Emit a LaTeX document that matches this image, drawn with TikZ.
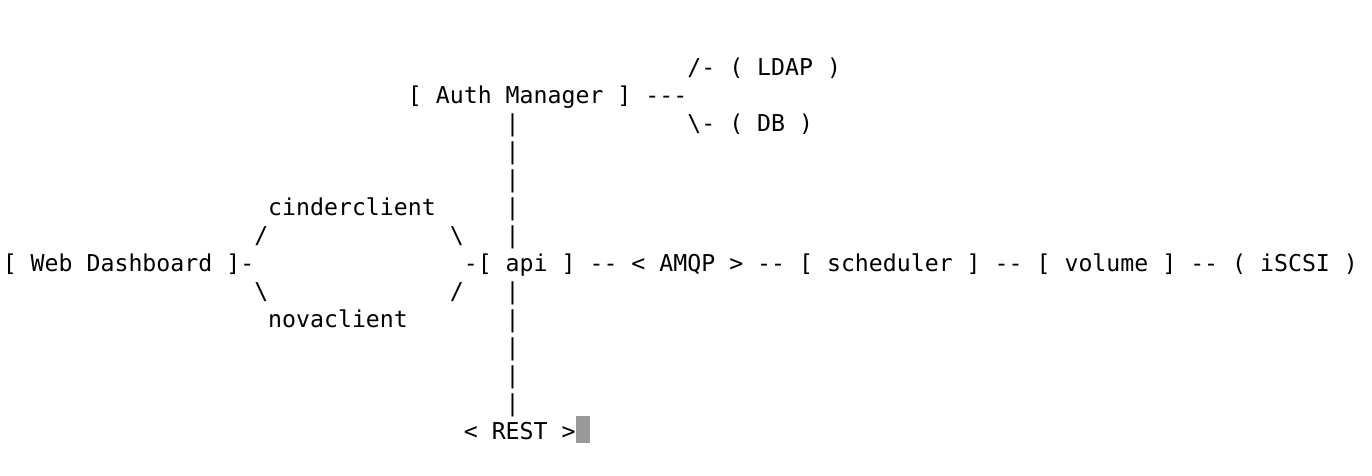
\documentclass[tikz,border=0pt]{standalone}
\usepackage{fontspec}
\newfontfamily\asciimono{DejaVu Sans Mono}[Ligatures=TeXOff]
\definecolor{cursorgray}{HTML}{999999}
\tikzset{
  tok/.style={anchor=base west, inner sep=0pt, outer sep=0pt, text=black,
    font=\asciimono\fontsize{23.2pt}{28pt}\selectfont},
  cursorbox/.style={fill=cursorgray, draw=none, inner sep=0pt, outer sep=0pt,
    minimum width=14pt, minimum height=27pt, anchor=north west}
}
% \tok{name}{column}{row}{text}
\newcommand\tok[4]{\node[tok] (#1) at ({(2.8+#2*13.97)*1pt},{-(75.5+#3*28)*1pt}) {#4};}
\begin{document}
\begin{tikzpicture}[x=1pt,y=1pt]
\useasboundingbox (0,0) rectangle (1372,-476);
% row 0
\tok{ldapbranch}{49}{0}{/-}
\tok{ldapl}{52}{0}{(}
\tok{ldap}{54}{0}{LDAP}
\tok{ldapr}{59}{0}{)}
% row 1
\tok{authl}{29}{1}{[}
\tok{authA}{31}{1}{Auth}
\tok{authM}{36}{1}{Manager}
\tok{authr}{44}{1}{]}
\tok{authdash}{46}{1}{---}
% row 2
\tok{barA}{36}{2}{|}
\tok{dbbranch}{49}{2}{\textbackslash-}
\tok{dbl}{52}{2}{(}
\tok{db}{54}{2}{DB}
\tok{dbr}{57}{2}{)}
% rows 3-4
\tok{barB}{36}{3}{|}
\tok{barC}{36}{4}{|}
% row 5
\tok{cinder}{19}{5}{cinderclient}
\tok{barD}{36}{5}{|}
% row 6
\tok{cinderin}{18}{6}{/}
\tok{cinderout}{32}{6}{\textbackslash}
\tok{barE}{36}{6}{|}
% row 7
\tok{webl}{0}{7}{[}
\tok{webW}{2}{7}{Web}
\tok{webD}{6}{7}{Dashboard}
\tok{webr}{16}{7}{]-}
\tok{apil}{33}{7}{-[}
\tok{api}{36}{7}{api}
\tok{apir}{40}{7}{]}
\tok{linkA}{42}{7}{--}
\tok{amqpl}{45}{7}{<}
\tok{amqp}{47}{7}{AMQP}
\tok{amqpr}{52}{7}{>}
\tok{linkB}{54}{7}{--}
\tok{schedl}{57}{7}{[}
\tok{sched}{59}{7}{scheduler}
\tok{schedr}{69}{7}{]}
\tok{linkC}{71}{7}{--}
\tok{voll}{74}{7}{[}
\tok{vol}{76}{7}{volume}
\tok{volr}{83}{7}{]}
\tok{linkD}{85}{7}{--}
\tok{iscsil}{88}{7}{(}
\tok{iscsi}{90}{7}{iSCSI}
\tok{iscsir}{96}{7}{)}
% row 8
\tok{novain}{18}{8}{\textbackslash}
\tok{novaout}{32}{8}{/}
\tok{barF}{36}{8}{|}
% row 9
\tok{nova}{19}{9}{novaclient}
\tok{barG}{36}{9}{|}
% rows 10-12
\tok{barH}{36}{10}{|}
\tok{barI}{36}{11}{|}
\tok{barJ}{36}{12}{|}
% row 13
\tok{restl}{33}{13}{<}
\tok{rest}{35}{13}{REST}
\tok{restr}{40}{13}{>}
\node[cursorbox] (cursor) at (575.6,-416) {};
\end{tikzpicture}
\end{document}
